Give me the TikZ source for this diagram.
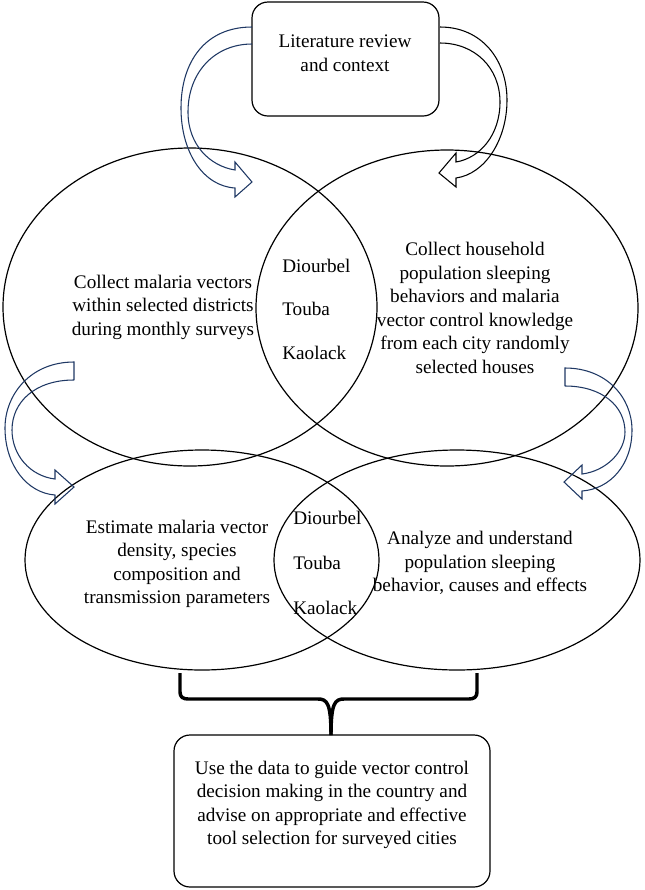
\documentclass[tikz,border=0pt]{standalone}
\usepackage{fontspec}
\setmainfont{Liberation Serif}
\usetikzlibrary{shapes.geometric}
\definecolor{arrowblue}{RGB}{31,56,100}
\begin{document}
\begin{tikzpicture}[x=0.75pt,y=-0.75pt,
  lbl/.style={align=center,font=\fontsize{14.4}{17.6}\selectfont,inner sep=0pt},
  citylbl/.style={align=left,anchor=west,font=\fontsize{14.4}{17.6}\selectfont,inner sep=0pt},
  oval/.style={draw,ellipse,line width=0.9pt,inner sep=0pt},
  roundbox/.style={draw,line width=0.9pt,rounded corners=12pt},
  bluearrow/.style={draw=arrowblue,line width=0.8pt,line join=miter},
  blackarrow/.style={draw=black,line width=0.8pt,line join=miter},
  bracestyle/.style={draw,line width=2.6pt,line join=round}]
\useasboundingbox (0,0) rectangle (644,890);

% top box
\draw[roundbox] (252,2) rectangle (439,116);
\node[lbl] (lit) at (345,53) {Literature review\\and context};

% upper ellipses
\node[oval,minimum width=280.5pt,minimum height=238.5pt] (ul) at (190,307) {};
\node[oval,minimum width=286.5pt,minimum height=237pt] (ur) at (447,308) {};
% lower ellipses
\node[oval,minimum width=265.5pt,minimum height=165pt] (ll) at (202,560) {};
\node[oval,minimum width=274.5pt,minimum height=165pt] (lr) at (457,560) {};

% texts
\node[lbl] (t1) at (163,307) {Collect malaria vectors\\within selected districts\\during monthly surveys};
\node[citylbl] (c1) at (282,309) {Diourbel\\[15pt]Touba\\[15pt]Kaolack};
\node[lbl] (t2) at (475,308) {Collect household\\population sleeping\\behaviors and malaria\\vector control knowledge\\from each city randomly\\selected houses};
\node[lbl] (t3) at (177,564) {Estimate malaria vector\\density, species\\composition and\\transmission parameters};
\node[citylbl] (c2) at (293,563) {Diourbel\\[16pt]Touba\\[16pt]Kaolack};
\node[lbl] (t4) at (480,563) {Analyze and understand\\population sleeping\\behavior, causes and effects};

% bottom box
\draw[roundbox] (174,735) rectangle (490,887);
\node[lbl] (use) at (332,805) {Use the data to guide vector control\\decision making in the country and\\advise on appropriate and effective\\tool selection for surveyed cities};

% brace
\coordinate (btip) at (331,735);
\draw[bracestyle] (180,673) -- (180,692) .. controls (180,697) and (183,699) .. (188,699)
  -- (318,699) .. controls (327,699) and (331,703) .. (btip);
\draw[bracestyle] (477,673) -- (477,692) .. controls (477,697) and (474,699) .. (469,699)
  -- (344,699) .. controls (335,699) and (331,703) .. (btip);

% top-left arrow (blue)
\draw[bluearrow] (252,27) .. controls (205,27) and (181,62) .. (181,108)
  .. controls (181,152) and (203,186) .. (235,188) -- (235,197) -- (252,182) -- (235,162) -- (235,170)
  .. controls (210,166) and (188,145) .. (188,112) .. controls (188,72) and (215,44) .. (252,44);

% top-right arrow (black)
\draw[blackarrow] (440,27) .. controls (482,27) and (507,60) .. (507,100)
  .. controls (507,140) and (485,174) .. (456,178) -- (456,187) -- (439,173) -- (456,153) -- (456,162)
  .. controls (480,158) and (500,135) .. (500,102) .. controls (500,68) and (475,43) .. (440,43);

% left arrow (blue)
\draw[bluearrow] (74,380) -- (74,362) .. controls (30,362) and (5,395) .. (5,428)
  .. controls (5,465) and (27,493) .. (55,495) -- (55,504) -- (74,487) -- (55,470) -- (55,479)
  .. controls (30,476) and (12,455) .. (12,430) .. controls (12,402) and (35,380) .. (74,380);

% right arrow (blue)
\draw[bluearrow] (565,386) -- (565,368) .. controls (607,368) and (632,398) .. (632,430)
  .. controls (632,465) and (610,489) .. (582,491) -- (582,499) -- (564,482) -- (582,465) -- (582,474)
  .. controls (606,471) and (625,452) .. (625,432) .. controls (625,406) and (602,386) .. (565,386);
\end{tikzpicture}
\end{document}
